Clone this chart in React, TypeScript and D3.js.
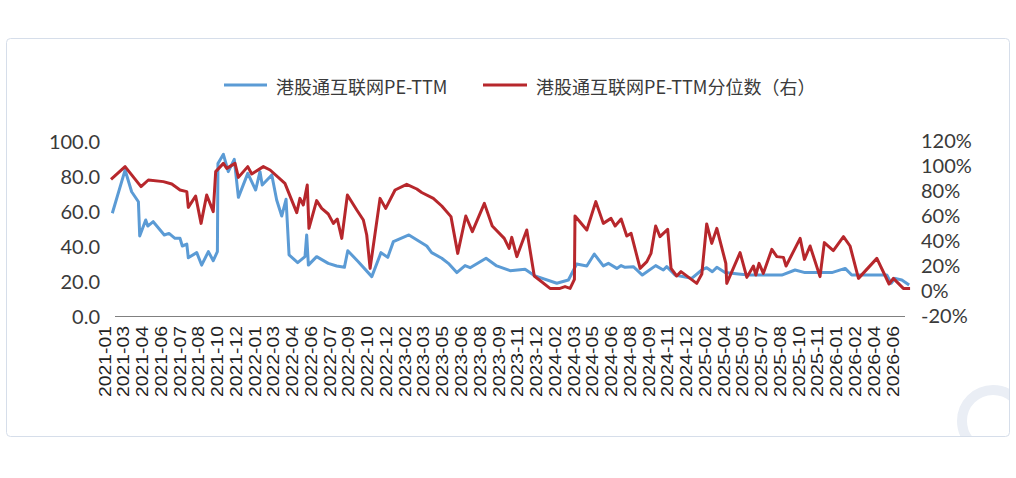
import * as d3 from "d3";

// category labels shown under the axis (every 3rd-ish trading date)
const tickLabels = [
  "2021-01", "2021-03", "2021-04", "2021-06", "2021-07", "2021-08", "2021-10", "2021-12",
  "2022-01", "2022-03", "2022-04", "2022-06", "2022-07", "2022-09", "2022-10", "2022-12",
  "2023-02", "2023-03", "2023-05", "2023-06", "2023-08", "2023-09", "2023-11", "2023-12",
  "2024-02", "2024-03", "2024-05", "2024-06", "2024-08", "2024-09", "2024-11", "2024-12",
  "2025-02", "2025-04", "2025-05", "2025-07", "2025-08", "2025-10", "2025-11", "2026-01",
  "2026-02", "2026-04", "2026-06",
];

const leftTicks = [0, 20, 40, 60, 80, 100];
const rightTicks = [-20, 0, 20, 40, 60, 80, 100, 120];

// position on the category axis (in label steps) and PE-TTM value
const peT = [
  0.39, 1.07, 1.42, 1.78, 1.85, 2.17, 2.28, 2.57, 3.16, 3.41, 3.73, 4.0, 4.12, 4.36, 4.44, 4.89,
  5.15, 5.51, 5.77, 5.99, 6.02, 6.31, 6.57, 6.89, 7.11, 7.61, 8.03, 8.26, 8.38, 8.89, 9.15, 9.42,
  9.65, 9.81, 10.27, 10.66, 10.75, 10.84, 11.28, 11.9, 12.35, 12.76, 12.94, 13.5, 14.22, 14.71,
  15.07, 15.37, 16.2, 17.15, 17.41, 17.95, 18.3, 18.75, 19.19, 19.46, 20.31, 20.88, 21.59, 22.39,
  22.92, 24.08, 24.7, 25.14, 25.68, 26.08, 26.56, 26.83, 27.28, 27.51, 27.72, 28.16, 28.64, 29.35,
  29.76, 29.94, 30.38, 31.27, 31.81, 32.07, 32.37, 32.61, 33.05, 33.76, 34.29, 36.07, 36.78, 37.31,
  38.74, 39.45, 39.8, 41.67, 41.9, 42.11, 42.47, 42.86,
];
const peVal = [
  58.7, 83.4, 71.0, 65.3, 45.7, 54.9, 51.4, 53.9, 46.3, 47.2, 44.4, 44.4, 40.0, 41.1, 33.3, 36.2,
  29.1, 36.8, 31.6, 36.8, 87.2, 92.4, 82.5, 89.5, 67.8, 81.5, 72.0, 82.5, 74.9, 80.6, 66.3, 57.1,
  66.7, 34.9, 30.5, 33.9, 46.3, 29.1, 33.9, 30.1, 28.6, 27.8, 37.3, 31.0, 22.5, 36.2,
  33.5, 42.5, 46.3, 40.0, 36.2, 33.0, 30.1, 24.8, 28.8, 27.6, 33.0, 28.6, 25.9, 26.7,
  22.9, 18.7, 20.6, 29.7, 28.6, 35.4, 28.6, 30.1, 27.2, 28.8, 27.8, 28.2, 23.4, 28.8,
  26.3, 28.2, 23.4, 21.5, 26.3, 27.6, 25.3, 27.8, 24.8, 24.0, 23.4, 23.4, 26.3, 24.8,
  24.8, 27.2, 23.4, 23.4, 18.7, 21.5, 20.6, 17.7,
];

// PE-TTM percentile (%), right axis
const pctT = [
  0.32, 1.07, 1.92, 2.31, 3.11, 3.56, 4.0, 4.36, 4.44, 4.83, 5.12, 5.42, 5.77, 5.9, 6.31, 6.49,
  6.93, 7.11, 7.61, 7.82, 8.44, 8.8, 9.59, 10.22, 10.39, 10.57, 10.78, 10.87, 11.28, 11.55, 11.9,
  12.17, 12.38, 12.62, 12.92, 13.42, 13.77, 13.95, 14.13, 14.66, 14.96, 15.46, 16.08, 16.62, 16.88,
  17.5, 17.95, 18.44, 18.8, 19.23, 19.58, 20.22, 20.64, 21.28, 21.54, 21.68, 21.95, 22.48, 22.88,
  23.72, 24.25, 24.52, 24.79, 25.02, 25.05, 25.68, 26.16, 26.56, 26.97, 27.19, 27.51, 27.81, 28.04,
  28.52, 28.88, 29.1, 29.35, 29.58, 29.99, 30.17, 30.47, 30.7, 31.54, 31.81, 32.07, 32.34, 32.61,
  33.09, 33.14, 33.85, 34.21, 34.56, 34.69, 34.86, 35.09, 35.54, 35.81, 36.16, 36.3, 37.05, 37.28,
  37.58, 38.11, 38.34, 38.82, 39.36, 39.71, 40.16, 41.14, 41.79, 42.02, 42.55, 42.91,
];
const pctVal = [
  88.5, 98.7, 82.7, 88.0, 86.7, 84.8, 80.0, 78.7, 66.1, 75.2, 53.3, 76.0, 62.7, 94.7, 101.3, 97.3,
  101.3, 90.1, 98.7, 92.8, 98.7, 96.0, 85.3, 61.9, 73.3, 68.0, 84.0, 49.3, 71.5, 65.3, 60.8,
  53.3, 56.8, 41.3, 76.0, 64.0, 56.0, 44.0, 17.3, 73.3, 65.3, 80.0, 84.5, 80.8, 78.0,
  73.3, 67.2, 58.7, 29.3, 59.2, 46.7, 69.3, 51.2, 41.3, 33.3, 42.1, 26.7, 48.0, 11.2,
  1.3, 1.3, 2.7, 1.3, 8.5, 59.2, 48.0, 70.7, 53.3, 57.3, 51.2, 56.8, 43.2, 45.3,
  17.3, 22.7, 29.3, 51.2, 42.7, 48.5, 17.3, 11.2, 14.7, 5.3, 12.8, 52.8, 37.3, 49.3,
  21.3, 5.3, 29.9, 10.1, 19.2, 12.0, 21.3, 13.3, 32.5, 26.7, 26.1, 19.2, 41.3, 24.5,
  35.2, 10.7, 37.9, 31.5, 42.7, 35.2, 9.3, 25.3, 4.8, 9.3, 1.3, 1.3,
];

const W = 1016;
const H = 478;
const BLUE = "#5b9bd5";
const RED = "#b7272c";
const TEXT = "#3a3a3a";
const CJK = "'Noto Sans CJK SC', 'Noto Sans', sans-serif";
const NUM = "Lato, 'Noto Sans', sans-serif";

export default function App() {
  const x = d3.scaleLinear().domain([0, tickLabels.length - 1]).range([105, 893]);
  const yL = d3.scaleLinear().domain([0, 100]).range([316, 141]);
  const yR = d3.scaleLinear().domain([-20, 120]).range([315, 140]);

  const peLine = d3
    .line<number>()
    .x((_, i) => x(peT[i]))
    .y((d) => yL(d));
  const pctLine = d3
    .line<number>()
    .x((_, i) => x(pctT[i]))
    .y((d) => yR(d));

  return (
    <svg
      width={W}
      height={H}
      style={{ position: "absolute", left: 0, top: 0, background: "#fff" }}
    >
      <defs>
        <clipPath id="box">
          <rect x={6} y={38} width={1004} height={399} rx={4} />
        </clipPath>
      </defs>

      {/* frame + faint watermark */}
      <g clipPath="url(#box)">
        <circle cx={993} cy={421} r={31} fill="none" stroke="#eaeef5" strokeWidth={10} />
      </g>
      <rect x={6.5} y={38.5} width={1003} height={398} rx={4} fill="none" stroke="#d6deea" />

      {/* legend */}
      <line x1={224} x2={267} y1={85} y2={85} stroke={BLUE} strokeWidth={3} />
      <text x={276} y={86} fontSize={18} fontFamily={CJK} fill={TEXT} dominantBaseline="central">
        港股通互联网PE-TTM
      </text>
      <line x1={483} x2={527} y1={85} y2={85} stroke={RED} strokeWidth={3} />
      <text x={536} y={86} fontSize={18} fontFamily={CJK} fill={TEXT} dominantBaseline="central">
        港股通互联网PE-TTM分位数（右）
      </text>

      {/* left axis labels */}
      {leftTicks.map((t) => (
        <text
          key={"l" + t}
          x={100}
          y={yL(t)}
          textAnchor="end"
          dominantBaseline="central"
          fontSize={20}
          fontFamily={NUM}
          fill={TEXT}
        >
          {t.toFixed(1)}
        </text>
      ))}

      {/* right axis labels */}
      {rightTicks.map((t) => (
        <text
          key={"r" + t}
          x={921}
          y={yR(t)}
          dominantBaseline="central"
          fontSize={20}
          fontFamily={NUM}
          fill={TEXT}
        >
          {t}%
        </text>
      ))}

      {/* category axis */}
      <line x1={115} x2={905} y1={316.5} y2={316.5} stroke="#808080" strokeWidth={1} />
      {tickLabels.map((lab, i) => (
        <text
          key={lab}
          transform={`translate(${x(i)},326) rotate(-90)`}
          textAnchor="end"
          dominantBaseline="central"
          fontSize={16}
          fontFamily="'Liberation Sans', Arial, sans-serif"
          fill="#222"
          textLength={71}
          lengthAdjust="spacingAndGlyphs"
        >
          {lab}
        </text>
      ))}

      {/* series */}
      <path
        d={peLine(peVal) ?? ""}
        fill="none"
        stroke={BLUE}
        strokeWidth={3}
        strokeLinejoin="round"
      />
      <path
        d={pctLine(pctVal) ?? ""}
        fill="none"
        stroke={RED}
        strokeWidth={3}
        strokeLinejoin="round"
      />
    </svg>
  );
}
